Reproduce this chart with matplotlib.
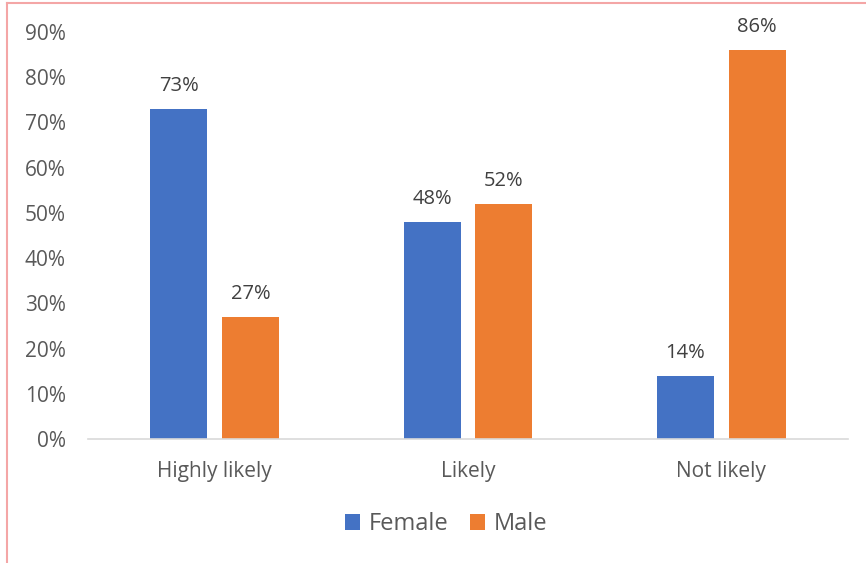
import matplotlib
matplotlib.use("Agg")
import matplotlib.pyplot as plt
from matplotlib.lines import Line2D
from matplotlib.ticker import PercentFormatter
import numpy as np

categories = ["Highly likely", "Likely", "Not likely"]
female = [73, 48, 14]
male = [27, 52, 86]
series_names = ["Female", "Male"]

plt.rcParams['font.family'] = ['Open Sans', 'DejaVu Sans']
grey = "#595959"
dark = "#404040"

fig = plt.figure(figsize=(8.66, 5.63), dpi=100)
ax = fig.add_axes([88/866, 1-439/563, 760/866, 407/563])

x = np.arange(len(categories))
w = 0.225
off = 0.142
b1 = ax.bar(x - off, female, w, color="#4472C4", label=series_names[0])
b2 = ax.bar(x + off, male, w, color="#ED7D31", label=series_names[1])
for bars, vals in ((b1, female), (b2, male)):
    for r, v in zip(bars, vals):
        ax.text(r.get_x() + r.get_width()/2, v + 2.9, f"{v}%", ha="center", va="bottom",
                fontsize=14.5, color=dark)

ax.set_xlim(-0.5, 2.5)
ax.set_ylim(0, 90)
ax.set_yticks(range(0, 91, 10))
ax.yaxis.set_major_formatter(PercentFormatter(decimals=0))
ax.set_xticks(x)
ax.set_xticklabels(categories)
for s in ["top", "right", "left"]:
    ax.spines[s].set_visible(False)
ax.spines["bottom"].set_color("#D9D9D9")
ax.spines["bottom"].set_linewidth(1.2)
ax.tick_params(axis="both", length=0, labelsize=15, colors=grey)
ax.tick_params(axis="y", pad=16)
ax.tick_params(axis="x", pad=16)

leg = fig.legend(handles=[b1, b2], loc="center", bbox_to_anchor=(446/866, 1-524/563),
                 ncol=2, frameon=False, fontsize=17, handlelength=0.65, handleheight=0.65,
                 columnspacing=0.9, handletextpad=0.35)
for t in leg.get_texts():
    t.set_color(grey)

# border
fig.add_artist(Line2D([7/866, 7/866], [0, 1-3/563], transform=fig.transFigure, color="#F4A6A6", lw=1.5))
fig.add_artist(Line2D([7/866, 1], [1-3/563, 1-3/563], transform=fig.transFigure, color="#F4A6A6", lw=1.5))

fig.savefig("out.png", dpi=100)
